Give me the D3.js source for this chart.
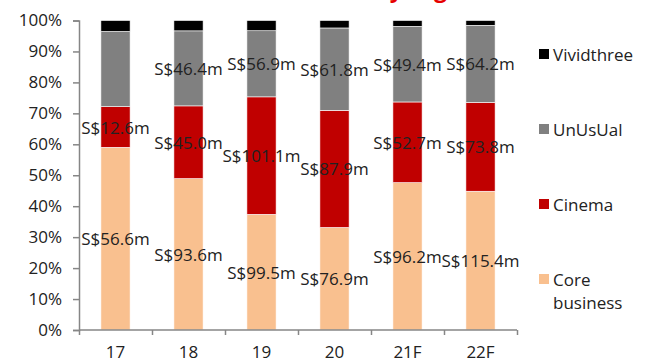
<!DOCTYPE html>
<html>
<head>
<meta charset="utf-8">
<script src="https://cdn.jsdelivr.net/npm/d3@7"></script>
<style>
  html, body { margin: 0; padding: 0; background: #fff; }
  svg { display: block; }
  text { font-family: "Open Sans", "Noto Sans", sans-serif; fill: #222; }
</style>
</head>
<body>
<svg id="chart" width="647" height="362"></svg>
<script>
// Revenue split by segment, S$ m
const years = ["17", "18", "19", "20", "21F", "22F"];
const coreBusiness = [56.6, 93.6, 99.5, 76.9, 96.2, 115.4];
const cinema = [12.6, 45.0, 101.1, 87.9, 52.7, 73.8];
const unusual = [23.3, 46.4, 56.9, 61.8, 49.4, 64.2];
const vividthree = [3.4, 6.4, 8.8, 5.6, 3.8, 4.0];
// which segment values get a data label
const showLabels = {
  core: [true, true, true, true, true, true],
  cinema: [true, true, true, true, true, true],
  unusual: [false, true, true, true, true, true],
  vivid: [false, false, false, false, false, false]
};
const yTicks = [0, 0.1, 0.2, 0.3, 0.4, 0.5, 0.6, 0.7, 0.8, 0.9, 1.0];

const series = [
  { key: "core", name: "Core business", values: coreBusiness, color: "#F9C08F" },
  { key: "cinema", name: "Cinema", values: cinema, color: "#C00000" },
  { key: "unusual", name: "UnUsUal", values: unusual, color: "#808080" },
  { key: "vivid", name: "Vividthree", values: vividthree, color: "#000000" }
];

const svg = d3.select("#chart");
const plotLeft = 79, plotRight = 517, plotTop = 20.5, plotBottom = 330;

const x = d3.scaleBand().domain(years).range([plotLeft, plotRight]).paddingInner(0.6).paddingOuter(0.3);
const y = d3.scaleLinear().domain([0, 1]).range([plotBottom, plotTop]);

// rows normalised to shares of the yearly total
const rows = years.map((yr, i) => {
  const row = { year: yr };
  series.forEach(s => row[s.key] = s.values[i]);
  row.total = d3.sum(series, s => s.values[i]);
  return row;
});
const stack = d3.stack()
  .keys(series.map(s => s.key))
  .value((d, k) => d[k] / d.total);
const stacked = stack(rows);

// title, sitting above the top edge so only its descenders show
svg.append("text")
  .attr("x", 270).attr("y", -3.5)
  .style("font-size", "23px").style("font-weight", "bold").style("fill", "#E60000")
  .text("Revenue by segment");

// bars
const layers = svg.append("g").selectAll("g")
  .data(stacked).join("g")
  .attr("fill", (d, i) => series[i].color);
layers.selectAll("rect")
  .data(d => d).join("rect")
  .attr("x", d => x(d.data.year))
  .attr("width", x.bandwidth())
  .attr("y", d => y(d[1]))
  .attr("height", d => y(d[0]) - y(d[1]))
  .attr("stroke", "#fff")
  .attr("stroke-width", 0.6);

// y axis
const yAxis = svg.append("g")
  .attr("transform", `translate(${plotLeft},0)`)
  .call(d3.axisLeft(y).tickValues(yTicks).tickFormat(d3.format(".0%")).tickSize(6).tickPadding(11));
yAxis.select(".domain").attr("stroke", "#868686").attr("stroke-width", 1.5);
yAxis.selectAll(".tick line").attr("stroke", "#868686").attr("stroke-width", 1.5);
yAxis.selectAll("text").style("font-size", "17px").style("fill", "#222").attr("font-family", null);

// x axis: tick marks at category boundaries, labels centred under bars
const xEdge = d3.scaleLinear().domain([0, years.length]).range([plotLeft, plotRight]);
const xTicksG = svg.append("g")
  .attr("transform", `translate(0,${plotBottom})`)
  .call(d3.axisBottom(xEdge).tickValues(d3.range(years.length + 1)).tickSize(5).tickFormat(""));
xTicksG.select(".domain").attr("stroke", "#868686").attr("stroke-width", 1.5).attr("d", `M${plotLeft},0H${plotRight}`);
xTicksG.selectAll(".tick line").attr("stroke", "#868686").attr("stroke-width", 1.5);

const xAxis = svg.append("g")
  .attr("transform", `translate(0,${plotBottom})`)
  .call(d3.axisBottom(x).tickSize(0).tickPadding(16));
xAxis.select(".domain").remove();
xAxis.selectAll("text").style("font-size", "17px").style("fill", "#222").attr("font-family", null);

// data labels, centred in each segment
stacked.forEach((layer, li) => {
  const s = series[li];
  svg.append("g").selectAll("text")
    .data(layer.filter((d, i) => showLabels[s.key][i]))
    .join("text")
    .attr("x", d => x(d.data.year) + x.bandwidth() / 2)
    .attr("y", d => y((d[0] + d[1]) / 2))
    .attr("text-anchor", "middle")
    .attr("dominant-baseline", "central")
    .style("font-size", "17px")
    .text(d => `S$${d3.format(".1f")(d.data[s.key])}m`);
});

// legend
const legendItems = series.slice().reverse();
const legend = svg.append("g").selectAll("g")
  .data(legendItems).join("g")
  .attr("transform", (d, i) => `translate(539,${54 + i * 75})`);
legend.append("rect")
  .attr("x", 0).attr("y", -5).attr("width", 10).attr("height", 10)
  .attr("fill", d => d.color);
legend.append("text")
  .attr("x", 14)
  .attr("dominant-baseline", "central")
  .style("font-size", "17px")
  .selectAll("tspan")
  .data(d => d.name === "Core business" ? ["Core", "business"] : [d.name])
  .join("tspan")
  .attr("x", 14)
  .attr("dy", (d, i) => i === 0 ? 0 : 23)
  .text(d => d);
</script>
</body>
</html>
